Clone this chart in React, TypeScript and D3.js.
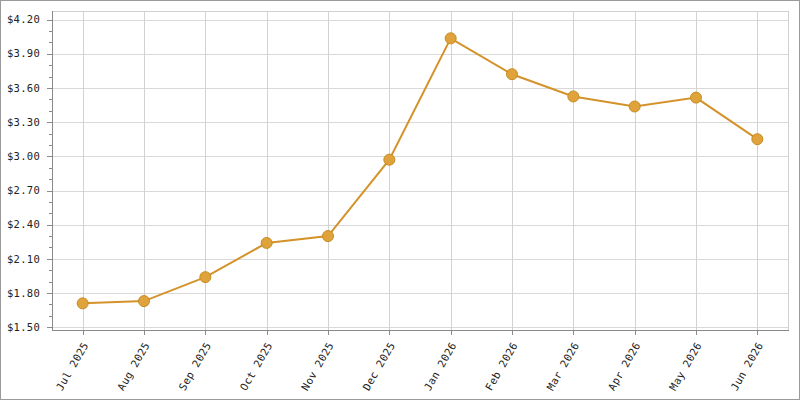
import React from "react";
import * as d3 from "d3";

const months = ["Jul 2025","Aug 2025","Sep 2025","Oct 2025","Nov 2025","Dec 2025","Jan 2026","Feb 2026","Mar 2026","Apr 2026","May 2026","Jun 2026"];
const prices = [1.71, 1.73, 1.94, 2.24, 2.30, 2.97, 4.035, 3.72, 3.525, 3.437, 3.515, 3.15];
const majorTicks = [1.5, 1.8, 2.1, 2.4, 2.7, 3.0, 3.3, 3.6, 3.9, 4.2];
const minorTicks = [1.6, 1.7, 1.9, 2.0, 2.2, 2.3, 2.5, 2.6, 2.8, 2.9, 3.1, 3.2, 3.4, 3.5, 3.7, 3.8, 4.0, 4.1];

const W = 800, H = 400;
const L = 52, R = 788, T = 11, B = 330;
const FONT = "'DejaVu Sans Mono', monospace";

export default function App() {
  const x = d3.scaleBand<string>().domain(months).range([L, R]);
  const cx = (m: string) => (x(m) as number) + x.bandwidth() / 2;
  const y = d3.scaleLinear().domain([1.4763, 4.2746]).range([B, T]);
  const line = d3.line<number>().x((_, i) => cx(months[i])).y((d) => y(d));
  const fmt = (v: number) => "$" + d3.format(".2f")(v);

  return (
    <svg width={W} height={H} style={{ position: "fixed", left: 0, top: 0, background: "#fff" }}>
      <rect x={0.5} y={0.5} width={W - 1} height={H - 1} fill="#fff" stroke="#9a9a9a" />
      {majorTicks.map((t) => (
        <line key={"h" + t} x1={L} x2={R} y1={Math.round(y(t)) + 0.5} y2={Math.round(y(t)) + 0.5} stroke="#d9d9d9" />
      ))}
      {months.map((m) => (
        <line key={"v" + m} x1={Math.round(cx(m)) + 0.5} x2={Math.round(cx(m)) + 0.5} y1={T} y2={B} stroke="#d2d2d2" />
      ))}
      <line x1={L} x2={R + 0.5} y1={T + 0.5} y2={T + 0.5} stroke="#d0d0d0" />
      <line x1={R + 0.5} x2={R + 0.5} y1={T} y2={B} stroke="#d0d0d0" />
      <line x1={L + 0.5} x2={L + 0.5} y1={T} y2={B + 0.5} stroke="#8a8a8a" />
      <line x1={L} x2={R + 1} y1={B + 0.5} y2={B + 0.5} stroke="#8a8a8a" />
      {majorTicks.map((t) => (
        <g key={"mt" + t}>
          <line x1={L - 5} x2={L} y1={Math.round(y(t)) + 0.5} y2={Math.round(y(t)) + 0.5} stroke="#8a8a8a" />
          <text x={40} y={y(t)} dy="0.35em" textAnchor="end" fontFamily={FONT} fontSize={10.5} letterSpacing={0.3} fill="#222">
            {fmt(t)}
          </text>
        </g>
      ))}
      {minorTicks.map((t) => (
        <line key={"mn" + t} x1={L - 3} x2={L} y1={Math.round(y(t)) + 0.5} y2={Math.round(y(t)) + 0.5} stroke="#8a8a8a" />
      ))}
      {months.map((m) => (
        <g key={"xt" + m}>
          <line x1={Math.round(cx(m)) + 0.5} x2={Math.round(cx(m)) + 0.5} y1={B} y2={B + 5} stroke="#8a8a8a" />
          <text
            transform={`translate(${cx(m) + 3},${B + 13}) rotate(-60)`}
            textAnchor="end"
            dy="0.35em"
            fontFamily={FONT}
            fontSize={10.5}
            letterSpacing={0.4}
            fill="#222"
          >
            {m}
          </text>
        </g>
      ))}
      <path d={line(prices) as string} fill="none" stroke="#d4922a" strokeWidth={2} />
      {prices.map((p, i) => (
        <circle key={"c" + i} cx={cx(months[i])} cy={y(p)} r={5.5} fill="#e0a23a" stroke="#c68c22" strokeWidth={1} />
      ))}
    </svg>
  );
}
